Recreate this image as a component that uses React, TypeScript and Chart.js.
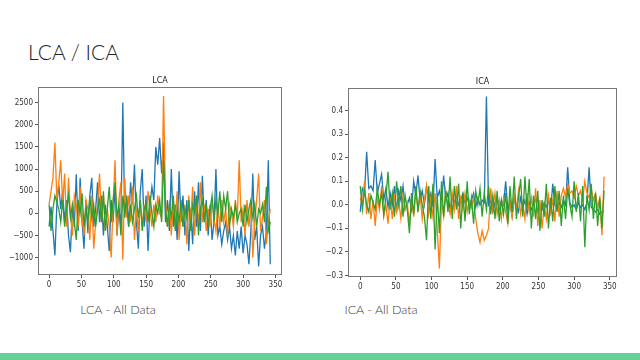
import React, { useEffect, useRef } from "react";
import { Chart, registerables } from "chart.js";

Chart.register(...registerables);

const STEP = 3;
const xTicks = [0, 50, 100, 150, 200, 250, 300, 350];
const lcaYTicks = [-1000, -500, 0, 500, 1000, 1500, 2000, 2500];
const icaYTicks = [-0.3, -0.2, -0.1, 0.0, 0.1, 0.2, 0.3, 0.4];

const lcaBlue = [
  -300, 150, -400, -950, 200, 650, 100, 500, -200, 300,
  -500, -880, 100, -300, 880, -400, 800, -200, -800, 300,
  -450, 400, 800, -300, 100, 700, -200, 400, -500, 200,
  -300, -850, 300, -200, 600, -500, 100, -300, 2500, -100,
  400, -300, 700, 200, 1100, -200, -800, 500, 1000, -300,
  400, -850, 200, 600, 300, 1500, 1100, 1700, 900, 1600,
  -200, 300, -400, 1000, -300, 200, -600, 950, -200, 400,
  -500, 300, -850, 100, -700, 500, -300, 700, -400, 850,
  -200, 300, -500, 200, -600, -200, 1000, -500, -300, -700,
  -400, -200, -600, -300, -800, -500, -950, -400, -800, -300,
  -900, -500, -700, -1150, -400, 900, -600, -300, -1200, -500,
  -300, -800, -400, 1200, -1150,
];
const lcaOrange = [
  200, 500, 800, 1600, 300, 700, 1200, 200, 900, -300,
  800, 0, -500, 400, 200, -300, 600, -100, -500, 300,
  100, -600, 400, -800, -200, 200, 900, -200, 400, -400,
  100, -300, -1000, 200, 1200, -500, 300, 700, -1050, 800,
  -100, 400, -200, 600, -600, 100, -400, 300, -300, 200,
  -200, 500, 100, -300, 200, -200, 400, 0, -100, 2650,
  300, -300, 200, -500, 300, -200, 500, -600, 100, -300,
  200, -700, 400, -200, 600, -500, 300, -300, 700, -200,
  200, -400, 100, -300, 300, -100, -400, 200, -300, 300,
  -200, 100, -500, 200, 0, -300, 300, -100, 1200, -200,
  100, -500, 300, -300, 200, -1000, -200, 300, 900, -400,
  -100, 300, -700, -200, 100,
];
const lcaGreen = [
  200, -400, 100, 400, 250, 100, -200, 300, -300, 100,
  400, -100, 200, -200, -600, 300, 0, 450, -300, 100,
  -200, 400, -100, 200, -300, 100, 300, -200, 500, -400,
  100, 600, -200, 300, 700, -100, 200, -500, 400, 0,
  300, -300, 200, -200, 100, 400, -100, 300, -400, 100,
  200, -200, 400, 0, -300, 200, 0, 300, -200, 1200,
  100, -300, 200, -100, 400, -400, 100, -200, 300, -300,
  100, -100, 300, -400, 200, 0, 400, -500, 100, 300,
  -200, 200, -300, 100, 400, -200, 300, 0, 500, -200,
  400, 100, 500, -300, 100, -100, 200, -200, 0, 100,
  -300, 200, -200, 100, 300, -100, 200, -300, 100, 0,
  200, -200, 600, -400, -200,
];

const icaBlue = [
  -0.03, 0.07, 0.05, 0.225, 0.07, 0.08, 0.06, 0.19, 0.05, 0.09,
  0.13, 0.02, 0.07, -0.01, 0.05, 0.0, 0.08, -0.03, 0.06, 0.02,
  0.08, -0.02, 0.0, 0.03, -0.02, 0.1, 0.04, 0.125, 0.02, 0.06,
  0.0, 0.08, 0.02, 0.05, -0.01, 0.195, 0.03, 0.06, 0.01, 0.125,
  0.02, 0.05, -0.02, 0.03, 0.01, 0.04, 0.0, 0.02, 0.05, 0.01,
  0.03, 0.0, 0.02, 0.05, -0.01, 0.03, 0.0, 0.02, 0.01, 0.46,
  0.0, 0.02, -0.03, 0.01, 0.03, -0.02, 0.02, 0.0, 0.1, -0.02,
  0.01, -0.05, 0.02, 0.0, -0.03, 0.03, -0.01, 0.02, -0.04, 0.01,
  -0.02, 0.0, 0.03, -0.03, 0.0, -0.02, 0.01, -0.01, 0.02, -0.03,
  0.09, 0.0, -0.02, 0.01, -0.01, 0.02, 0.0, 0.16, 0.01, -0.01,
  0.0, -0.02, 0.01, -0.01, 0.0, -0.02, 0.01, 0.16, -0.01, -0.02,
  -0.03, -0.02, -0.04, -0.03, -0.025,
];
const icaOrange = [
  0.03, 0.0, 0.1, -0.04, 0.05, -0.06, 0.02, -0.09, 0.03, -0.02,
  0.08, -0.05, 0.0, -0.08, 0.03, -0.06, 0.05, -0.03, 0.02, -0.06,
  0.04, -0.02, 0.01, -0.09, 0.03, -0.05, 0.06, -0.02, 0.04, -0.06,
  0.02, 0.08, -0.04, 0.03, -0.05, 0.05, -0.1, -0.27, 0.02, -0.05,
  0.06, 0.0, -0.04, 0.05, -0.02, 0.08, -0.06, 0.03, -0.02, 0.05,
  -0.03, 0.02, -0.01, 0.03, -0.06, -0.12, -0.16, -0.11, -0.15, -0.13,
  -0.1, 0.07, -0.02, 0.05, -0.04, 0.02, -0.06, 0.03, -0.03, -0.08,
  0.02, -0.05, 0.04, -0.02, 0.06, -0.04, 0.01, -0.06, 0.05, -0.03,
  0.03, -0.05, 0.07, -0.09, 0.02, -0.1, 0.0, -0.06, 0.04, -0.03,
  0.02, -0.07, 0.06, -0.05, 0.04, 0.07, 0.03, 0.09, 0.05, 0.06,
  0.03, 0.08, 0.04, 0.06, 0.02, 0.1, 0.05, 0.03, 0.07, 0.02,
  0.05, -0.01, 0.03, -0.13, 0.12,
];
const icaGreen = [
  0.08, -0.02, 0.06, 0.0, -0.03, 0.04, 0.01, -0.02, 0.07, 0.0,
  0.05, -0.04, 0.03, 0.14, -0.02, 0.05, -0.05, 0.1, 0.0, 0.08,
  -0.05, 0.04, -0.02, -0.12, 0.05, -0.04, 0.08, -0.03, 0.06, 0.0,
  -0.05, -0.15, 0.08, -0.06, 0.09, -0.19, 0.04, -0.12, 0.1, -0.05,
  0.06, -0.03, 0.12, -0.06, 0.08, -0.02, 0.09, -0.1, 0.05, -0.07,
  0.1, -0.04, 0.03, -0.08, 0.06, 0.0, 0.07, -0.05, 0.05, -0.02,
  0.08, -0.04, 0.04, -0.06, 0.06, -0.07, 0.02, -0.04, 0.05, -0.08,
  0.08, -0.03, 0.12, -0.06, 0.03, 0.11, -0.05, 0.12, -0.02, 0.11,
  -0.1, 0.04, -0.06, 0.06, -0.11, 0.02, -0.05, 0.09, -0.1, 0.03,
  -0.07, 0.08, -0.03, 0.06, -0.09, 0.04, -0.06, 0.07, 0.0, -0.05,
  0.1, -0.03, 0.05, -0.07, 0.08, -0.18, 0.04, -0.02, 0.09, -0.06,
  0.05, -0.09, 0.03, -0.1, 0.06,
];

const TICK_FONT = "'Liberation Sans Narrow', 'DejaVu Sans Condensed', 'Liberation Sans', sans-serif";

const framePlugin = {
  id: "frame",
  afterDatasetsDraw(chart: any, _args: any, opts: any) {
    const { ctx, chartArea } = chart;
    ctx.save();
    ctx.strokeStyle = "#777";
    ctx.lineWidth = 1;
    ctx.strokeRect(
      Math.round(chartArea.left) + 0.5,
      Math.round(chartArea.top) + 0.5,
      Math.round(chartArea.right - chartArea.left) - 1,
      Math.round(chartArea.bottom - chartArea.top) - 1
    );
    ctx.fillStyle = "#222";
    ctx.font = "8px 'DejaVu Sans', sans-serif";
    ctx.textAlign = "center";
    ctx.textBaseline = "alphabetic";
    ctx.fillText(opts.text, (chartArea.left + chartArea.right) / 2, chartArea.top - 4);
    ctx.restore();
  },
};

function toPoints(arr: number[]) {
  return arr.map((y, i) => ({ x: i * STEP, y }));
}

function makeChart(
  canvas: HTMLCanvasElement,
  title: string,
  series: number[][],
  yTicks: number[],
  yMin: number,
  yMax: number,
  decimals: number,
  padTop: number,
  padRight: number
) {
  const colors = ["#1f77b4", "#ff7f0e", "#2ca02c"];
  return new Chart(canvas, {
    type: "line",
    data: {
      datasets: series.map((s, k) => ({
        data: toPoints(s),
        borderColor: colors[k],
        borderWidth: 1.3,
        pointRadius: 0,
        tension: 0,
        fill: false,
        order: 3 - k,
      })),
    },
    options: {
      animation: false,
      responsive: false,
      devicePixelRatio: 1,
      layout: { padding: { top: padTop, right: padRight, left: 0, bottom: 0 } },
      plugins: {
        legend: { display: false },
        tooltip: { enabled: false },
        frame: { text: title },
      } as any,
      scales: {
        x: {
          type: "linear",
          min: -17.15,
          max: 360.15,
          afterBuildTicks: (scale: any) => {
            scale.ticks = xTicks.map((value) => ({ value }));
          },
          afterFit: (scale: any) => {
            scale.height = 20;
          },
          grid: { drawOnChartArea: false, drawTicks: true, tickLength: 3, color: "#555" },
          border: { display: false },
          ticks: {
            color: "#333",
            font: { family: TICK_FONT, size: 8 },
            padding: 2,
            maxRotation: 0,
            autoSkip: false,
            callback: (v: any) => String(v),
          },
        },
        y: {
          type: "linear",
          min: yMin,
          max: yMax,
          afterBuildTicks: (scale: any) => {
            scale.ticks = yTicks.map((value) => ({ value }));
          },
          afterFit: (scale: any) => {
            scale.width = 38;
          },
          grid: { drawOnChartArea: false, drawTicks: true, tickLength: 3, color: "#555" },
          border: { display: false },
          ticks: {
            color: "#333",
            font: { family: TICK_FONT, size: 8 },
            padding: 2,
            autoSkip: false,
            callback: (v: any) => Number(v).toFixed(decimals).replace("-", "\u2212"),
          },
        },
      },
    },
    plugins: [framePlugin],
  } as any);
}

export default function App() {
  const lcaRef = useRef<HTMLCanvasElement>(null);
  const icaRef = useRef<HTMLCanvasElement>(null);

  useEffect(() => {
    const c1 = makeChart(
      lcaRef.current!,
      "LCA",
      [lcaBlue, lcaOrange, lcaGreen],
      lcaYTicks,
      -1393,
      2853,
      0,
      17,
      18
    );
    const c2 = makeChart(
      icaRef.current!,
      "ICA",
      [icaBlue, icaOrange, icaGreen],
      icaYTicks,
      -0.3065,
      0.4965,
      1,
      18,
      23
    );
    return () => {
      c1.destroy();
      c2.destroy();
    };
  }, []);

  return (
    <div
      style={{
        position: "absolute",
        left: 0,
        top: 0,
        width: 640,
        height: 360,
        background: "#fff",
        overflow: "hidden",
        fontFamily: "Lato, 'Open Sans', sans-serif",
      }}
    >
      <div
        style={{
          position: "absolute",
          left: 28,
          top: 38,
          fontSize: 21,
          lineHeight: "28px",
          color: "#222",
          fontWeight: 300,
        }}
      >
        LCA / ICA
      </div>
      <canvas
        ref={lcaRef}
        width={300}
        height={225}
        style={{ position: "absolute", left: 0, top: 70, width: 300, height: 225 }}
      />
      <canvas
        ref={icaRef}
        width={330}
        height={227}
        style={{ position: "absolute", left: 310, top: 70, width: 330, height: 227 }}
      />
      <div
        style={{
          position: "absolute",
          left: 18,
          width: 200,
          top: 302,
          textAlign: "center",
          fontSize: 12.5,
          color: "#3a3a3a",
          fontWeight: 300,
        }}
      >
        LCA - All Data
      </div>
      <div
        style={{
          position: "absolute",
          left: 281,
          width: 200,
          top: 302,
          textAlign: "center",
          fontSize: 12.5,
          color: "#3a3a3a",
          fontWeight: 300,
        }}
      >
        ICA - All Data
      </div>
      <div
        style={{
          position: "absolute",
          left: 0,
          top: 353,
          width: 640,
          height: 7,
          background: "#64d197",
        }}
      />
    </div>
  );
}
